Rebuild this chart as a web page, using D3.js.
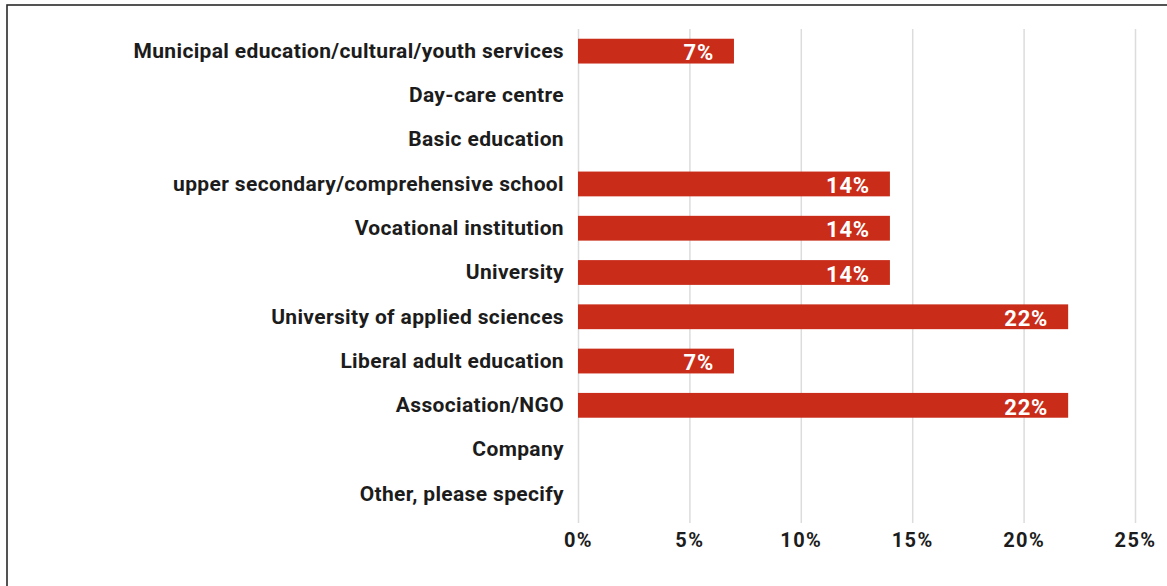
<!DOCTYPE html>
<html>
<head>
<meta charset="utf-8">
<script src="https://cdn.jsdelivr.net/npm/d3@7"></script>
<style>
  html, body { margin: 0; padding: 0; background: #fff; }
  svg { display: block; }
  .lbl text, .xax text { font-family: Roboto, "Noto Sans", sans-serif; font-weight: 700; fill: #1c1c1c; }
</style>
</head>
<body>
<svg id="chart" width="1167" height="586"></svg>
<script>
// Organisation types and share of respondents (%)
const categories = [
  "Municipal education/cultural/youth services",
  "Day-care centre",
  "Basic education",
  "General upper secondary/comprehensive school",
  "Vocational institution",
  "University",
  "University of applied sciences",
  "Liberal adult education",
  "Association/NGO",
  "Company",
  "Other, please specify"
];
const values = [7, 0, 0, 14, 14, 14, 22, 7, 22, 0, 0];
const xTicks = [0, 5, 10, 15, 20, 25];

const svg = d3.select("#chart");

// outer frame
svg.append("rect")
  .attr("x", 7).attr("y", 5)
  .attr("width", 1200).attr("height", 640)
  .attr("fill", "none").attr("stroke", "#2a2a2a").attr("stroke-width", 1.6);

const x = d3.scaleLinear().domain([0, 25]).range([578, 1135]);
const y = d3.scaleBand().domain(categories).range([29, 516])
  .paddingInner(0.44).paddingOuter(0.22);

const gridTop = 29, gridBottom = 523;

// vertical gridlines + tick labels
const xAxis = svg.append("g").attr("class", "xax")
  .attr("transform", `translate(0,${gridBottom})`)
  .call(d3.axisBottom(x).tickValues(xTicks)
    .tickSize(-(gridBottom - gridTop))
    .tickPadding(10)
    .tickFormat(d => d + "%"));
xAxis.select(".domain").remove();
xAxis.selectAll(".tick line").attr("stroke", "#dcdcdc").attr("stroke-width", 1.5);
xAxis.selectAll(".tick text")
  .attr("font-size", 20)
  .attr("letter-spacing", 1.4)
  .attr("dy", "0.71em");

// category labels
const yAxis = svg.append("g").attr("class", "lbl")
  .attr("transform", `translate(578,0)`)
  .call(d3.axisLeft(y).tickSize(0).tickPadding(14));
yAxis.select(".domain").remove();
yAxis.selectAll(".tick text")
  .attr("font-size", 21)
  .attr("letter-spacing", 0.35);

// the longest label overflows its column and is cut at the column edge
const labelLeft = 170 - 578;
svg.append("clipPath").attr("id", "longclip")
  .append("rect").attr("x", labelLeft).attr("y", -40).attr("width", 600).attr("height", 80);
yAxis.selectAll(".tick")
  .filter(d => d === categories[3])
  .select("text")
  .attr("clip-path", "url(#longclip)");

// bars
const data = categories.map((c, i) => ({ c, v: values[i] })).filter(d => d.v > 0);

svg.append("g").selectAll("rect")
  .data(data).join("rect")
  .attr("x", x(0))
  .attr("y", d => y(d.c))
  .attr("width", d => x(d.v) - x(0))
  .attr("height", y.bandwidth())
  .attr("fill", "#c92c19");

svg.append("g").selectAll("text")
  .data(data).join("text")
  .attr("x", d => x(d.v) - 20)
  .attr("y", d => y(d.c) + y.bandwidth() / 2)
  .attr("dy", "0.42em")
  .attr("text-anchor", "end")
  .attr("font-family", "Roboto, 'Noto Sans', sans-serif")
  .attr("font-weight", 700)
  .attr("font-size", 22)
  .attr("letter-spacing", 0.8)
  .attr("fill", "#fff")
  .text(d => d.v + "%");
</script>
</body>
</html>
